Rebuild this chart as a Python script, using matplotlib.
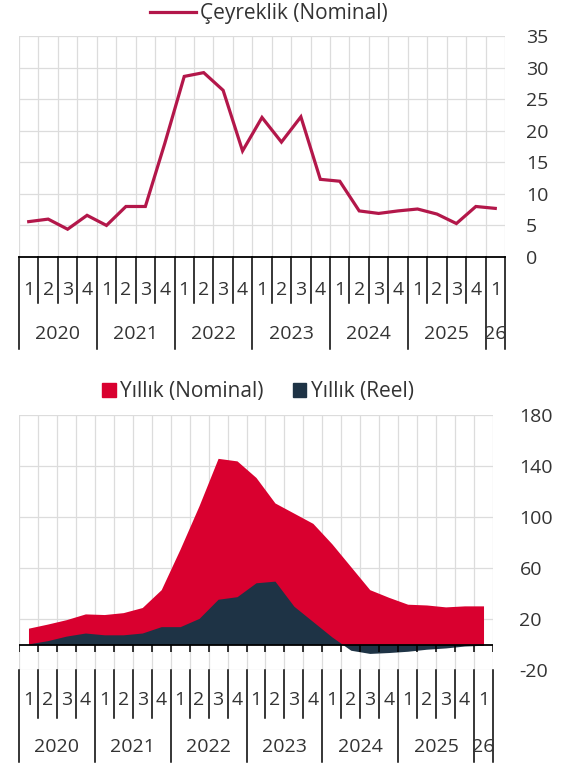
import matplotlib
matplotlib.use('Agg')
import matplotlib.pyplot as plt
import matplotlib.transforms as mtransforms
from matplotlib.lines import Line2D
from matplotlib.patches import Patch

plt.rcParams['font.family'] = ['Open Sans', 'DejaVu Sans']
plt.rcParams['axes.unicode_minus'] = False

# veriler (2020Ç1 - 2026Ç1)
ceyrekler = ['1', '2', '3', '4'] * 6 + ['1']
yillar = ['2020', '2021', '2022', '2023', '2024', '2025', '26']
ceyreklik_nominal = [5.6, 6.0, 4.4, 6.6, 5.0, 8.0, 8.0, 18.0, 28.6, 29.2, 26.4, 16.8,
                     22.1, 18.2, 22.2, 12.3, 12.0, 7.3, 6.9, 7.3, 7.6, 6.8, 5.3, 8.0, 7.7]
yillik_nominal = [12.8, 16.0, 19.5, 24.0, 23.5, 25.0, 29.0, 43.0, 75.0, 109.0, 146.0, 144.0,
                  131.0, 111.0, 103.0, 95.0, 79.0, 61.0, 43.0, 37.0, 31.6, 31.0, 29.5, 30.3, 30.3]
yillik_reel = [0.5, 3.0, 6.6, 9.0, 7.6, 7.6, 9.0, 14.0, 14.0, 20.5, 35.5, 37.5,
               48.4, 49.7, 30.0, 18.0, 6.0, -4.5, -7.0, -6.3, -5.3, -3.7, -2.7, -1.2, -0.6]

W, H = 565, 769
KIRMIZI = '#D9002F'
LACIVERT = '#1E3345'
CIZGI = '#B3174A'
YAZI = '#333333'
GRID = '#DCDCDC'
FS = 14

n = len(ceyrekler)
x = list(range(n))
sinirlar = [i - 0.5 for i in range(n + 1)]
yil_sinir = [i - 0.5 for i in range(0, n, 4)] + [n - 0.5]
yil_merkez = [i + 1.5 for i in range(0, 24, 4)] + [24]


def px(l, t, r, b):
    return [l / W, 1 - b / H, (r - l) / W, (b - t) / H]


fig = plt.figure(figsize=(W / 100, H / 100), dpi=100)


def eksen_duzen(ax, top_px, bot_px, cizgi_bas, q_son, y_son, q_yazi, y_yazi):
    # kategori ekseni: ceyrek ve yil ayraclari
    h = bot_px - top_px
    tr = mtransforms.blended_transform_factory(ax.transData, ax.transAxes)
    f = lambda p: (bot_px - p) / h
    for s in sinirlar:
        son = y_son if s in yil_sinir else q_son
        ax.plot([s, s], [f(cizgi_bas), f(son)], color='black', lw=1.1,
                transform=tr, clip_on=False)
    for i, q in enumerate(ceyrekler):
        ax.text(i, f(q_yazi), q, transform=tr, ha='center', va='center',
                fontsize=FS, color=YAZI)
    for c, yl in zip(yil_merkez, yillar):
        ax.text(c, f(y_yazi), yl, transform=tr, ha='center', va='center',
                fontsize=FS, color=YAZI)


# ---- ust grafik: ceyreklik ----
ax1 = fig.add_axes(px(19, 36, 505, 257))
ax1.set_xlim(-0.5, n - 0.5)
ax1.set_ylim(0, 35)
for s in sinirlar:
    ax1.axvline(s, color=GRID, lw=0.9, zorder=0)
for v in range(5, 36, 5):
    ax1.axhline(v, color=GRID, lw=0.9, zorder=0)
ax1.plot(x, ceyreklik_nominal, color=CIZGI, lw=2.3, solid_joinstyle='miter', zorder=3)
for sp in ['top', 'left', 'right']:
    ax1.spines[sp].set_visible(False)
ax1.spines['bottom'].set_color('black')
ax1.spines['bottom'].set_linewidth(1.3)
ax1.set_xticks([])
ax1.yaxis.tick_right()
ax1.set_yticks(range(0, 36, 5))
ax1.tick_params(axis='y', length=0, pad=15, labelsize=FS, labelcolor=YAZI)
eksen_duzen(ax1, 36, 257, 257, 303, 349, 290, 334)
fig.legend(handles=[Line2D([], [], color=CIZGI, lw=2.3)], labels=['Çeyreklik (Nominal)'],
           loc='center', bbox_to_anchor=(269 / W, 1 - 14 / H), frameon=False,
           fontsize=15, handlelength=2.2, handletextpad=0.2, labelcolor=YAZI)

# ---- alt grafik: yillik ----
ax2 = fig.add_axes(px(19, 415, 493, 670))
ax2.set_xlim(-0.5, n - 0.5)
ax2.set_ylim(-20, 180)
for s in sinirlar:
    ax2.axvline(s, color=GRID, lw=0.9, zorder=0)
for v in range(-20, 181, 40):
    ax2.axhline(v, color=GRID, lw=0.9, zorder=0)
ax2.fill_between(x, 0, yillik_nominal, color=KIRMIZI, lw=0, zorder=2)
ax2.fill_between(x, 0, yillik_reel, color=LACIVERT, lw=0, zorder=3)
ax2.axhline(0, color='black', lw=1.3, zorder=4)
ax2.vlines(sinirlar, -6, 0, color='black', lw=1.1, zorder=4)
for sp in ax2.spines.values():
    sp.set_visible(False)
ax2.set_xticks([])
ax2.yaxis.tick_right()
ax2.set_yticks(range(-20, 181, 40))
ax2.tick_params(axis='y', length=0, pad=19, labelsize=FS, labelcolor=YAZI)
eksen_duzen(ax2, 415, 670, 670, 718, 762, 700, 747)
fig.legend(handles=[Patch(color=KIRMIZI), Patch(color=LACIVERT)],
           labels=['Yıllık (Nominal)', 'Yıllık (Reel)'], ncol=2,
           loc='center', bbox_to_anchor=(258 / W, 1 - 392 / H), frameon=False,
           fontsize=15, handlelength=0.65, handleheight=0.65, handletextpad=0.2,
           columnspacing=1.4, labelcolor=YAZI)

fig.savefig('out.png', dpi=100)
